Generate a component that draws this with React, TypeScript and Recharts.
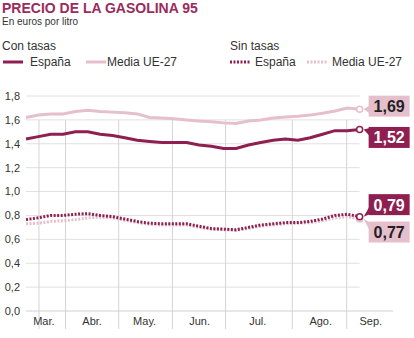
import { ComposedChart, Line, XAxis, YAxis, ReferenceLine, LabelList } from 'recharts';

// weekly prices, March -> early September
const weeks = [0, 1, 2, 3, 4, 5, 6, 7, 8, 9, 10, 11, 12, 13, 14, 15, 16, 17, 18, 19, 20, 21, 22, 23, 24, 25, 26, 27];
const espanaCon = [1.44, 1.46, 1.48, 1.48, 1.50, 1.50, 1.48, 1.47, 1.45, 1.43, 1.42, 1.41, 1.41, 1.41, 1.39, 1.38, 1.36, 1.36, 1.39, 1.41, 1.43, 1.44, 1.43, 1.45, 1.48, 1.51, 1.51, 1.52];
const mediaCon = [1.62, 1.64, 1.65, 1.65, 1.67, 1.68, 1.67, 1.665, 1.66, 1.65, 1.62, 1.615, 1.61, 1.60, 1.59, 1.585, 1.575, 1.57, 1.59, 1.60, 1.615, 1.625, 1.63, 1.64, 1.655, 1.675, 1.70, 1.69];
const espanaSin = [0.765, 0.78, 0.80, 0.80, 0.81, 0.815, 0.80, 0.79, 0.77, 0.75, 0.735, 0.73, 0.73, 0.73, 0.71, 0.69, 0.685, 0.68, 0.70, 0.72, 0.73, 0.74, 0.74, 0.75, 0.77, 0.80, 0.81, 0.79];
const mediaSin = [0.73, 0.735, 0.75, 0.755, 0.765, 0.78, 0.785, 0.78, 0.76, 0.74, 0.725, 0.72, 0.72, 0.72, 0.70, 0.685, 0.68, 0.675, 0.69, 0.71, 0.72, 0.73, 0.735, 0.74, 0.755, 0.78, 0.79, 0.77];

const months = ['Mar.', 'Abr.', 'May.', 'Jun.', 'Jul.', 'Ago.', 'Sep.'];
const monthCenters = [1.45, 5.35, 9.6, 14.05, 18.75, 23.85, 27.9];
const monthBounds = [1.05, 3.2, 7.5, 11.85, 16.15, 21.55, 25.95];
const yTicks = [0, 0.2, 0.4, 0.6, 0.8, 1.0, 1.2, 1.4, 1.6, 1.8];

const DARK = '#8e1f50';
const PINK = '#e6bfcd';
const FONT = '"Liberation Sans", Arial, sans-serif';

const data = weeks.map((w, i) => ({
    w,
    espanaCon: espanaCon[i],
    mediaCon: mediaCon[i],
    espanaSin: espanaSin[i],
    mediaSin: mediaSin[i],
}));
const last = weeks.length - 1;

const fmt = (v: number) => v.toFixed(2).replace('.', ',');

const endDot = (color: string) => (props: any) => {
    if (props.index !== last) return <g key={props.index} />;
    return <circle key={props.index} cx={props.cx} cy={props.cy} r={3} fill="#fff" stroke={color} strokeWidth={1.5} />;
};

const endLabel = (bg: string, fg: string, dy: number) => (props: any) => {
    const { x, y, value, index } = props;
    if (index !== last) return null;
    const bx = x + 9;
    const top = y + dy - 10.5;
    const cy = Math.min(Math.max(y, top + 5), top + 16);
    return (
        <g>
            <polygon points={`${x + 4},${y} ${bx + 1},${cy - 4} ${bx + 1},${cy + 4}`} fill={bg} />
            <rect x={bx} y={top} width={41} height={21} fill={bg} />
            <text x={bx + 20.5} y={top + 16.5} textAnchor="middle" fontSize={16} fontWeight="bold" fill={fg} fontFamily={FONT}>
                {fmt(value)}
            </text>
        </g>
    );
};

const Swatch = ({ color, dotted }: { color: string, dotted?: boolean }) => (
    <svg width={20} height={6} style={{ display: 'block' }}>
        <line x1={0} y1={3} x2={20} y2={3} stroke={color} strokeWidth={3} strokeDasharray={dotted ? '2 1.5' : undefined} />
    </svg>
);

export default function App() {
    return (
        <div style={{ position: 'absolute', left: 0, top: 0, width: 414, height: 338, background: '#fff', fontFamily: FONT }}>
            <div style={{ position: 'absolute', left: 2, top: 1, fontSize: 14, lineHeight: '14px', fontWeight: 'bold', color: '#9a2b5c' }}>PRECIO DE LA GASOLINA 95</div>
            <div style={{ position: 'absolute', left: 2, top: 17, fontSize: 10, lineHeight: '10px', color: '#333' }}>En euros por litro</div>

            <div style={{ position: 'absolute', left: 2, top: 40, fontSize: 12, lineHeight: '12px', color: '#333' }}>Con tasas</div>
            <div style={{ position: 'absolute', left: 230, top: 40, fontSize: 12, lineHeight: '12px', color: '#333' }}>Sin tasas</div>

            <div style={{ position: 'absolute', left: 3, top: 59 }}><Swatch color={DARK} /></div>
            <div style={{ position: 'absolute', left: 30, top: 56, fontSize: 12, lineHeight: '12px', color: '#333' }}>España</div>
            <div style={{ position: 'absolute', left: 86, top: 59 }}><Swatch color={PINK} /></div>
            <div style={{ position: 'absolute', left: 107, top: 56, fontSize: 12, lineHeight: '12px', color: '#333' }}>Media UE-27</div>

            <div style={{ position: 'absolute', left: 230, top: 59 }}><Swatch color={DARK} dotted /></div>
            <div style={{ position: 'absolute', left: 255, top: 56, fontSize: 12, lineHeight: '12px', color: '#333' }}>España</div>
            <div style={{ position: 'absolute', left: 307, top: 59 }}><Swatch color={PINK} dotted /></div>
            <div style={{ position: 'absolute', left: 332, top: 56, fontSize: 12, lineHeight: '12px', color: '#333' }}>Media UE-27</div>

            <div style={{ position: 'absolute', left: 0, top: 0 }}>
                <ComposedChart width={414} height={338} data={data} margin={{ top: 96, right: 21, bottom: 7, left: 0 }}>
                    <XAxis
                        dataKey="w"
                        type="number"
                        domain={[0, 29.7]}
                        ticks={monthCenters}
                        tickFormatter={(_v: number, i: number) => months[i]}
                        tickLine={false}
                        tickSize={0}
                        tickMargin={6}
                        height={20}
                        stroke="#d0d0d0"
                        tick={{ fill: '#333', fontSize: 11, fontFamily: FONT }}
                    />
                    <YAxis
                        type="number"
                        domain={[0, 1.8]}
                        ticks={yTicks}
                        tickFormatter={(v: number) => v.toFixed(1).replace('.', ',')}
                        axisLine={false}
                        tickLine={false}
                        tickSize={0}
                        tickMargin={6}
                        width={26}
                        tick={{ fill: '#333', fontSize: 11, fontFamily: FONT }}
                    />
                    {yTicks.filter(t => t > 0).map(t => (
                        <ReferenceLine key={'h' + t} segment={[{ x: 0, y: t }, { x: last, y: t }]} stroke="#e0e0e0" strokeWidth={1} ifOverflow="visible" />
                    ))}
                    {monthBounds.map(b => (
                        <ReferenceLine key={'v' + b} segment={[{ x: b, y: 1.6 }, { x: b, y: -0.15 }]} stroke="#d4d4d4" strokeWidth={1} ifOverflow="visible" />
                    ))}
                    <Line type="linear" dataKey="mediaCon" stroke={PINK} strokeWidth={3} dot={endDot(PINK)} isAnimationActive={false}>
                        <LabelList dataKey="mediaCon" content={endLabel(PINK, '#222', -3)} />
                    </Line>
                    <Line type="linear" dataKey="espanaCon" stroke={DARK} strokeWidth={3} dot={endDot(DARK)} isAnimationActive={false}>
                        <LabelList dataKey="espanaCon" content={endLabel(DARK, '#fff', 8)} />
                    </Line>
                    <Line type="linear" dataKey="mediaSin" stroke={PINK} strokeWidth={3} strokeDasharray="2 1.5" dot={endDot(PINK)} isAnimationActive={false}>
                        <LabelList dataKey="mediaSin" content={endLabel(PINK, '#222', 13)} />
                    </Line>
                    <Line type="linear" dataKey="espanaSin" stroke={DARK} strokeWidth={3} strokeDasharray="2 1.5" dot={endDot(DARK)} isAnimationActive={false}>
                        <LabelList dataKey="espanaSin" content={endLabel(DARK, '#fff', -12)} />
                    </Line>
                </ComposedChart>
            </div>
        </div>
    );
}
